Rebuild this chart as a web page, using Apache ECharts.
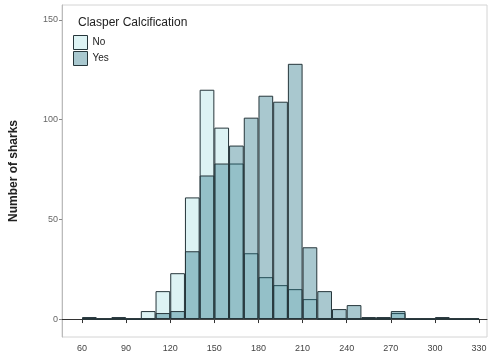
<!DOCTYPE html>
<html>
<head>
<meta charset="utf-8">
<script src="https://cdn.jsdelivr.net/npm/echarts@6/dist/echarts.min.js"></script>
<style>
  html, body { margin: 0; padding: 0; background: #fff; }
  #chart { width: 492px; height: 361px; }
</style>
</head>
<body>
<div id="chart"></div>
<script>
// histogram bins (lower edge, width 10)
const binStart = [60, 70, 80, 90, 100, 110, 120, 130, 140, 150, 160, 170, 180, 190,
                  200, 210, 220, 230, 240, 250, 260, 270, 280, 290, 300, 310, 320];
const binWidth = 10;
// counts per bin
const countNo  = [0, 0, 0, 0, 4, 14, 23, 61, 115, 96, 78, 33, 21, 17,
                  15, 10, 0, 0, 0, 0, 0, 3, 0, 0, 0, 0, 0];
const countYes = [1, 0, 1, 0, 0, 3, 4, 34, 72, 78, 87, 101, 112, 109,
                  128, 36, 14, 5, 7, 1, 1, 4, 0, 0, 1, 0, 0];
const xTicks = [60, 90, 120, 150, 180, 210, 240, 270, 300, 330];
const yTicks = [0, 50, 100, 150];

const chart = echarts.init(document.getElementById('chart'));

const toPoints = (counts) => counts.map((c, i) => [binStart[i] + binWidth / 2, c]);
const lineCol = '#26363b';

chart.setOption({
  animation: false,
  title: {
    text: 'Clasper Calcification',
    left: 73,
    top: 12,
    textStyle: { fontSize: 12, fontWeight: 'normal', color: '#222', fontFamily: 'Liberation Sans' }
  },
  legend: {
    data: ['No', 'Yes'],
    orient: 'vertical',
    left: 73,
    top: 35,
    padding: 0,
    itemWidth: 14,
    itemHeight: 14,
    itemGap: 1,
    icon: 'rect',
    itemStyle: { borderWidth: 1 },
    textStyle: { fontSize: 10, color: '#222', fontFamily: 'Liberation Sans' }
  },
  grid: {
    left: 61, right: 5, top: 5, bottom: 24,
    show: true,
    borderColor: '#d4d4d4',
    borderWidth: 1
  },
  xAxis: {
    type: 'value',
    min: 46.4,
    max: 335.4,
    splitLine: { show: false },
    axisLine: { show: true, lineStyle: { color: '#333', width: 1 } },
    axisTick: { show: true, length: 4, customValues: xTicks, lineStyle: { color: '#333' } },
    axisLabel: {
      customValues: xTicks,
      fontSize: 9, color: '#444', margin: 7,
      fontFamily: 'Liberation Sans'
    }
  },
  yAxis: {
    type: 'value',
    min: -9,
    max: 157.5,
    name: 'Number of sharks',
    nameLocation: 'middle',
    nameGap: 42,
    nameTextStyle: { fontSize: 12, fontWeight: 'bold', color: '#222', fontFamily: 'Liberation Sans' },
    splitLine: { show: false },
    axisLine: { show: true, lineStyle: { color: '#bbb' } },
    axisTick: { show: true, length: 3, customValues: yTicks, lineStyle: { color: '#888' } },
    axisLabel: {
      customValues: yTicks,
      fontSize: 9, color: '#666', margin: 4,
      fontFamily: 'Liberation Sans'
    }
  },
  series: [
    {
      name: 'baseline',
      type: 'line',
      data: [[binStart[0], 0], [binStart[binStart.length - 1] + binWidth, 0]],
      symbol: 'none',
      silent: true,
      lineStyle: { color: '#555', width: 1.5 },
      z: 1
    },
    {
      name: 'No',
      type: 'bar',
      data: toPoints(countNo),
      barWidth: 14.7,
      barGap: '-100%',
      itemStyle: { color: '#ddf3f4', borderColor: lineCol, borderWidth: 1 },
      z: 2
    },
    {
      name: 'Yes',
      type: 'bar',
      data: toPoints(countYes),
      barWidth: 14.7,
      barGap: '-100%',
      itemStyle: { color: 'rgba(29,110,129,0.38)', borderColor: lineCol, borderWidth: 1 },
      z: 3
    }
  ]
});
</script>
</body>
</html>
